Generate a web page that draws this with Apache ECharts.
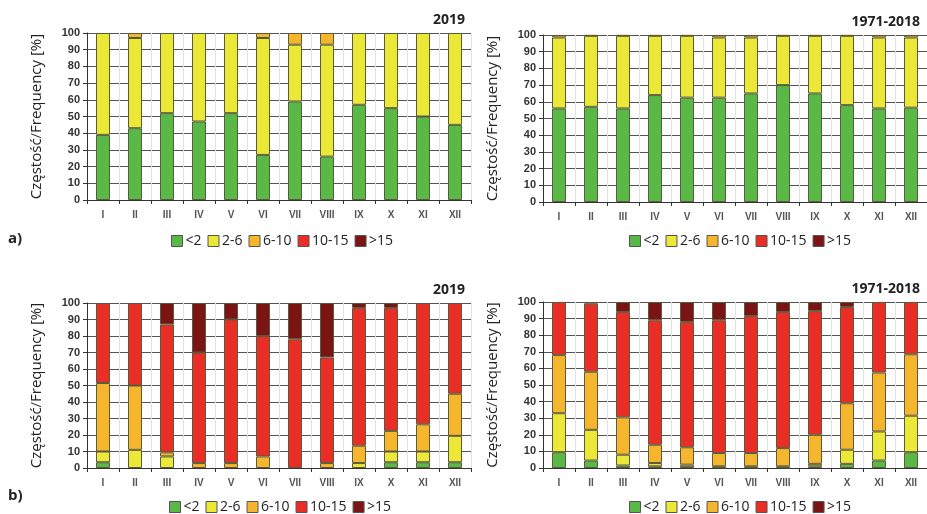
<!DOCTYPE html>
<html>
<head>
<meta charset="utf-8">
<script src="https://cdn.jsdelivr.net/npm/echarts@6/dist/echarts.min.js"></script>
<style>
  html, body { margin: 0; padding: 0; background: #fff; }
  #chart { width: 927px; height: 514px; }
</style>
</head>
<body>
<div id="chart"></div>
<script>
// Month categories and wind-speed classes
const months = ['I', 'II', 'III', 'IV', 'V', 'VI', 'VII', 'VIII', 'IX', 'X', 'XI', 'XII'];
const classes = ['<2', '2-6', '6-10', '10-15', '>15'];
const yTicks = [0, 10, 20, 30, 40, 50, 60, 70, 80, 90, 100];

// a) 2019
const a2019Lt2   = [39, 43, 52, 47, 52, 27, 59, 26, 57, 55, 50, 45];
const a2019C2_6  = [61, 54, 48, 53, 48, 70, 34, 67, 43, 45, 50, 55];
const a2019C6_10 = [0, 3, 0, 0, 0, 3, 7, 7, 0, 0, 0, 0];
const a2019C10_15 = [0, 0, 0, 0, 0, 0, 0, 0, 0, 0, 0, 0];
const a2019Gt15  = [0, 0, 0, 0, 0, 0, 0, 0, 0, 0, 0, 0];

// a) 1971-2018
const aRefLt2   = [56, 57, 56, 64, 62.5, 62.5, 65, 70, 65, 58, 56, 56.5];
const aRefC2_6  = [42.5, 42.5, 43.5, 35.5, 37, 36, 33.5, 29.5, 34.5, 41.5, 42.5, 42];
const aRefC6_10 = [1.5, 0.5, 0.5, 0.5, 0.5, 1.5, 1.5, 0.5, 0.5, 0.5, 1.5, 1.5];
const aRefC10_15 = [0, 0, 0, 0, 0, 0, 0, 0, 0, 0, 0, 0];
const aRefGt15  = [0, 0, 0, 0, 0, 0, 0, 0, 0, 0, 0, 0];

// b) 2019
const b2019Lt2   = [3.5, 0, 0, 0, 0, 0, 0, 0, 0, 3.5, 3.5, 3.5];
const b2019C2_6  = [6.5, 11, 7, 0, 0, 0, 0, 0, 3, 6.5, 6.5, 16];
const b2019C6_10 = [41.5, 39, 2.5, 3, 3, 7, 0, 3, 10.5, 12.5, 16.5, 25.5];
const b2019C10_15 = [48.5, 50, 77.5, 67, 87, 73, 78, 64, 83.5, 74.5, 73.5, 55];
const b2019Gt15  = [0, 0, 13, 30, 10, 20, 22, 33, 3, 3, 0, 0];

// b) 1971-2018
const bRefLt2   = [9.5, 4.5, 1.5, 1, 0.5, 0.3, 0.3, 0.3, 1, 2.5, 4.5, 9.5];
const bRefC2_6  = [23.5, 18.5, 6.5, 2, 1.5, 0.7, 0.7, 0.7, 1.5, 8.5, 17.5, 22];
const bRefC6_10 = [35, 35, 22.5, 11, 10.5, 8, 8, 11, 17.5, 28, 35.5, 37];
const bRefC10_15 = [32, 41, 63.5, 75, 75.5, 80, 82.5, 82, 74.5, 58, 42.5, 31.5];
const bRefGt15  = [0, 1, 6, 11, 12, 11, 8.5, 6, 5.5, 3, 0, 0];

const classColors = ['#58b947', '#ece837', '#f5b52d', '#ea2e26', '#7c1315'];

const panels = [
  { title: '2019',      grid: { left: 87,  top: 33,  width: 384, height: 167 }, legendLeft: 166, legendTop: 229,
    data: [a2019Lt2, a2019C2_6, a2019C6_10, a2019C10_15, a2019Gt15] },
  { title: '1971-2018', grid: { left: 543, top: 35,  width: 384, height: 167 }, legendLeft: 624, legendTop: 229,
    data: [aRefLt2, aRefC2_6, aRefC6_10, aRefC10_15, aRefGt15] },
  { title: '2019',      grid: { left: 87,  top: 303, width: 384, height: 165 }, legendLeft: 164, legendTop: 495,
    data: [b2019Lt2, b2019C2_6, b2019C6_10, b2019C10_15, b2019Gt15] },
  { title: '1971-2018', grid: { left: 543, top: 302, width: 384, height: 166 }, legendLeft: 624, legendTop: 495,
    data: [bRefLt2, bRefC2_6, bRefC6_10, bRefC10_15, bRefGt15] }
];

const textFont = '"Open Sans", "Liberation Sans", sans-serif';
const tickFont = '"Liberation Sans", Arial, sans-serif';

const grids = [], xAxes = [], yAxes = [], series = [], legends = [], titles = [];

panels.forEach((p, i) => {
  grids.push(p.grid);
  xAxes.push({
    type: 'category',
    gridIndex: i,
    data: months,
    axisLine: { lineStyle: { color: '#333', width: 1 } },
    axisTick: { show: true, length: 4, lineStyle: { color: '#333' } },
    axisLabel: { color: '#555', fontSize: 10, fontWeight: 'bold', fontFamily: tickFont, margin: 10 },
    splitLine: { show: true, lineStyle: { color: '#e2e2e2', width: 1 } }
  });
  yAxes.push({
    type: 'value',
    gridIndex: i,
    min: yTicks[0],
    max: yTicks[yTicks.length - 1],
    interval: yTicks[1] - yTicks[0],
    name: 'Częstość/Frequency [%]',
    nameLocation: 'middle',
    nameGap: 43,
    nameTextStyle: { fontSize: 15, color: '#222', fontFamily: textFont },
    axisLine: { show: true, lineStyle: { color: '#333', width: 1 } },
    axisTick: { show: true, length: 4, lineStyle: { color: '#333' } },
    axisLabel: { color: '#333', fontSize: 11, fontWeight: 'bold', fontFamily: tickFont, margin: 7 },
    splitLine: { show: true, lineStyle: { color: '#555', width: 1 } }
  });
  classes.forEach((c, k) => {
    series.push({
      name: c,
      type: 'bar',
      xAxisIndex: i,
      yAxisIndex: i,
      stack: 'panel' + i,
      barWidth: 14,
      // empty classes are left out so they leave no outline on the stack
      data: p.data[k].map(v => (v === 0 ? null : v)),
      itemStyle: { color: classColors[k], borderColor: '#5a5a3c', borderWidth: 1 },
      emphasis: { disabled: true }
    });
  });
  legends.push({
    left: p.legendLeft,
    top: p.legendTop,
    data: classes,
    icon: 'rect',
    itemWidth: 11,
    itemHeight: 11,
    itemGap: 6,
    selectedMode: false,
    itemStyle: { borderColor: '#555', borderWidth: 1 },
    textStyle: { fontSize: 14, color: '#222', fontFamily: textFont, padding: [0, 0, 0, -2] }
  });
  titles.push({
    text: p.title,
    right: i % 2 === 0 ? 927 - 470 : 2,
    top: p.grid.top - 25,
    textStyle: { fontSize: 14, fontWeight: 'bold', color: '#222', fontFamily: textFont }
  });
});

const chart = echarts.init(document.getElementById('chart'), null, { renderer: 'canvas' });
chart.setOption({
  backgroundColor: '#fff',
  animation: false,
  title: titles,
  grid: grids,
  xAxis: xAxes,
  yAxis: yAxes,
  legend: legends,
  series: series,
  graphic: [
    { type: 'text', left: 8, top: 231, style: { text: 'a)', fontSize: 15, fontWeight: 'bold', fill: '#222', fontFamily: textFont } },
    { type: 'text', left: 8, top: 488, style: { text: 'b)', fontSize: 15, fontWeight: 'bold', fill: '#222', fontFamily: textFont } }
  ]
});
</script>
</body>
</html>
